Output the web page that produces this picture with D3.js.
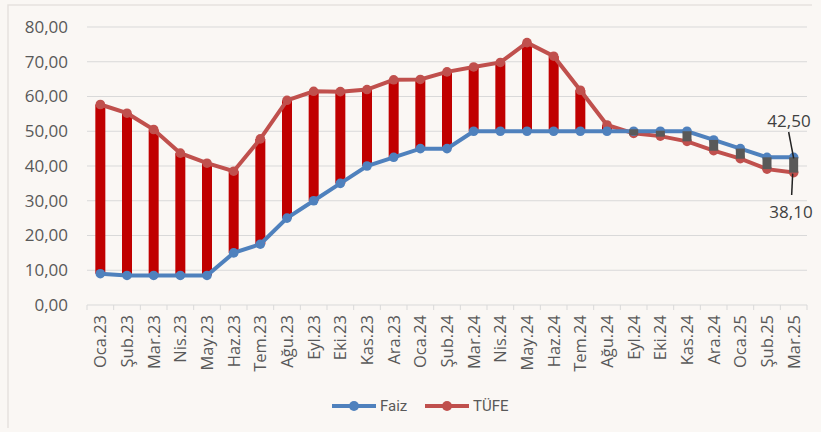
<!DOCTYPE html>
<meta charset="utf-8">
<head>
  <style>
    body { margin: 0; background: #fff; }
    svg { display: block; font-family: "Open Sans", sans-serif; }
    .grid line { stroke: #d9d9d9; stroke-width: 1px; }
    .ylab { fill: #595959; font-size: 17px; }
    .xlab { fill: #595959; font-size: 16.5px; }
    .legend text { fill: #595959; font-size: 15px; font-family: "Liberation Sans Narrow", "Roboto", sans-serif; }
  </style>
  <script src="https://d3js.org/d3.v7.min.js"></script>
</head>
<body>
  <svg width="821" height="432"></svg>
  <script>
    var months = ["Oca.23", "Şub.23", "Mar.23", "Nis.23", "May.23", "Haz.23", "Tem.23", "Ağu.23", "Eyl.23",
      "Eki.23", "Kas.23", "Ara.23", "Oca.24", "Şub.24", "Mar.24", "Nis.24", "May.24", "Haz.24", "Tem.24",
      "Ağu.24", "Eyl.24", "Eki.24", "Kas.24", "Ara.24", "Oca.25", "Şub.25", "Mar.25"];
    var faiz = [9, 8.5, 8.5, 8.5, 8.5, 15, 17.5, 25, 30, 35, 40, 42.5, 45, 45, 50, 50, 50, 50, 50,
      50, 50, 50, 50, 47.5, 45, 42.5, 42.5];
    var tufe = [57.7, 55.2, 50.5, 43.7, 40.8, 38.5, 47.8, 58.9, 61.5, 61.4, 62, 64.8, 64.9, 67.1, 68.5, 69.8, 75.5, 71.6, 61.8,
      51.8, 49.4, 48.6, 47.1, 44.4, 42.1, 39.1, 38.1];
    var yTicks = [0, 10, 20, 30, 40, 50, 60, 70, 80];

    var svg = d3.select("svg");
    var fmt = function(v) { return v.toFixed(2).replace(".", ","); };

    // background + frame
    svg.append("rect").attr("width", 821).attr("height", 432).attr("fill", "#faf7f4");
    svg.append("path").attr("d", "M8,428 V5 H812").attr("fill", "none").attr("stroke", "#e6e2de").attr("stroke-width", 1.5);

    var x = d3.scaleBand().domain(months).range([87, 807]);
    var y = d3.scaleLinear().domain([0, 80]).range([305, 27]);
    var cx = function(i) { return x(months[i]) + x.bandwidth() / 2; };

    // grid
    svg.append("g").attr("class", "grid")
      .selectAll("line").data(yTicks.filter(function(d) { return d > 0; })).enter().append("line")
      .attr("x1", 87).attr("x2", 807)
      .attr("y1", function(d) { return y(d); }).attr("y2", function(d) { return y(d); });

    svg.selectAll(".ylab").data(yTicks).enter().append("text")
      .attr("class", "ylab")
      .attr("x", 68).attr("y", function(d) { return y(d); })
      .attr("dy", "0.35em").attr("text-anchor", "end")
      .text(fmt);

    // x axis
    var xAxis = svg.append("g").attr("transform", "translate(0,305)");
    xAxis.append("line").attr("x1", 87).attr("x2", 807).attr("stroke", "#d9d9d9");
    xAxis.selectAll(".tk").data(d3.range(months.length + 1)).enter().append("line")
      .attr("x1", function(i) { return 87 + i * x.step(); })
      .attr("x2", function(i) { return 87 + i * x.step(); })
      .attr("y1", 0).attr("y2", 5).attr("stroke", "#d9d9d9");
    xAxis.selectAll(".xlab").data(months).enter().append("text")
      .attr("class", "xlab")
      .attr("transform", function(d, i) { return "translate(" + (cx(i) + 6) + ",10) rotate(-90)"; })
      .attr("text-anchor", "end")
      .text(function(d) { return d; });

    // red high-low bars (TÜFE above Faiz)
    svg.selectAll(".bar").data(months).enter()
      .filter(function(d, i) { return tufe[i] >= faiz[i]; })
      .append("line")
      .attr("x1", function(d) { return x(d) + x.bandwidth() / 2; })
      .attr("x2", function(d) { return x(d) + x.bandwidth() / 2; })
      .attr("y1", function(d) { return y(faiz[months.indexOf(d)]); })
      .attr("y2", function(d) { return y(tufe[months.indexOf(d)]); })
      .attr("stroke", "#c00000").attr("stroke-width", 10);

    var line = d3.line().x(function(d, i) { return cx(i); }).y(function(d) { return y(d); });

    function series(vals, col) {
      svg.append("path").datum(vals).attr("d", line)
        .attr("fill", "none").attr("stroke", col).attr("stroke-width", 4);
      svg.selectAll(null).data(vals).enter().append("circle")
        .attr("cx", function(d, i) { return cx(i); }).attr("cy", function(d) { return y(d); })
        .attr("r", 4.8).attr("fill", col);
    }
    series(tufe, "#c0504d");
    series(faiz, "#4f81bd");

    // grey bars where Faiz is above TÜFE
    svg.selectAll(".bar2").data(months).enter().filter(function(d, i) { return faiz[i] > tufe[i]; })
      .append("rect")
      .attr("x", function(d) { return x(d) + x.bandwidth() / 2 - 4.5; })
      .attr("width", 9)
      .attr("y", function(d) {
        var i = months.indexOf(d), h = Math.max(6, y(tufe[i]) - y(faiz[i]));
        return (y(faiz[i]) + y(tufe[i])) / 2 - h / 2;
      })
      .attr("height", function(d) { var i = months.indexOf(d); return Math.max(6, y(tufe[i]) - y(faiz[i])); })
      .attr("fill", "#595959");

    // labels on last point
    var last = months.length - 1;
    svg.append("line").attr("x1", cx(last) - 5).attr("y1", 132).attr("x2", cx(last)).attr("y2", y(faiz[last]) + 1)
      .attr("stroke", "#222").attr("stroke-width", 1.5);
    svg.append("text").attr("x", 789).attr("y", 127).attr("text-anchor", "middle")
      .attr("fill", "#404040").attr("font-size", 17).text(fmt(faiz[last]));
    svg.append("line").attr("x1", cx(last) - 1).attr("y1", y(tufe[last]) + 1).attr("x2", cx(last) - 2).attr("y2", 195)
      .attr("stroke", "#222").attr("stroke-width", 1.5);
    svg.append("text").attr("x", 791).attr("y", 218).attr("text-anchor", "middle")
      .attr("fill", "#404040").attr("font-size", 17).text(fmt(tufe[last]));

    // legend
    var legend = svg.append("g").attr("class", "legend").attr("transform", "translate(332,406)");
    var items = [["Faiz", "#4f81bd"], ["TÜFE", "#c0504d"]];
    items.forEach(function(it, k) {
      var g = legend.append("g").attr("transform", "translate(" + (k * 93) + ",0)");
      g.append("line").attr("x1", 0).attr("x2", 44).attr("stroke", it[1]).attr("stroke-width", 4);
      g.append("circle").attr("cx", 22).attr("r", 5).attr("fill", it[1]);
      g.append("text").attr("x", 48).attr("dy", "0.35em").text(it[0]);
    });
  </script>
</body>
